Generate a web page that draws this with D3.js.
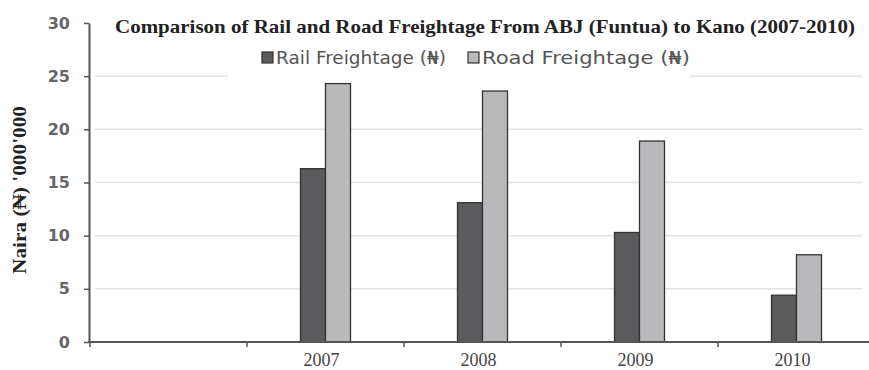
<!DOCTYPE html>
<html>
<head>
<meta charset="utf-8">
<script src="https://cdn.jsdelivr.net/npm/d3@7"></script>
<style>
  body { margin: 0; background: #fff; }
  svg { display: block; }
</style>
</head>
<body>
<svg width="869" height="370"></svg>
<script>
const years = ["", "2007", "2008", "2009", "2010"];
const seriesNames = ["Rail Freightage (₦)", "Road Freightage (₦)"];
const rail = [null, 16.3, 13.1, 10.3, 4.4];
const road = [null, 24.3, 23.6, 18.9, 8.2];
const yTicks = [0, 5, 10, 15, 20, 25, 30];

const svg = d3.select("svg");
const colors = ["#5b5a5c", "#b9b8bb"];

const x = d3.scaleBand()
  .domain(years)
  .range([90, 875]);

const x1 = d3.scaleBand()
  .domain(seriesNames)
  .range([0, 50]);

const y = d3.scaleLinear()
  .domain([0, 30])
  .range([342, 23]);

// grid lines
svg.append("g")
  .selectAll("line")
  .data(yTicks.filter(d => d > 0 && d < 30))
  .enter().append("line")
  .attr("x1", 95)
  .attr("x2", 862)
  .attr("y1", d => y(d))
  .attr("y2", d => y(d))
  .attr("stroke", "#e2e2e2")
  .attr("stroke-width", 1.5);

// white box behind the legend hides part of the 25 line
svg.append("rect")
  .attr("x", 228).attr("y", 40)
  .attr("width", 462).attr("height", 40)
  .attr("fill", "#fff");

// bars
const rows = years.map((yr, i) => ({ yr, vals: [rail[i], road[i]] }))
  .filter(d => d.vals[0] != null);

svg.append("g")
  .selectAll("g")
  .data(rows)
  .enter().append("g")
  .attr("transform", d => `translate(${x(d.yr) + x.bandwidth() / 2 - 25},0)`)
  .selectAll("rect")
  .data(d => d.vals.map((v, i) => ({ name: seriesNames[i], v, i })))
  .enter().append("rect")
  .attr("x", d => x1(d.name))
  .attr("width", x1.bandwidth())
  .attr("y", d => y(d.v))
  .attr("height", d => y(0) - y(d.v))
  .attr("fill", d => colors[d.i])
  .attr("stroke", "#333")
  .attr("stroke-width", 1.3);

// y axis
const yAxis = svg.append("g")
  .attr("transform", "translate(89,0)")
  .call(d3.axisLeft(y).tickValues(yTicks).tickSize(5).tickSizeOuter(0).tickPadding(14));
yAxis.select(".domain").attr("stroke", "#555").attr("stroke-width", 2);
yAxis.selectAll(".tick line").attr("stroke", "#555").attr("stroke-width", 1.5);
yAxis.selectAll(".tick text")
  .attr("font-family", "DejaVu Sans, Verdana, sans-serif")
  .attr("font-size", 16)
  .attr("font-weight", "bold")
  .attr("fill", "#666");

// x axis
const xAxis = svg.append("g")
  .attr("transform", "translate(0,342)");
xAxis.append("line")
  .attr("x1", 88).attr("x2", 875)
  .attr("stroke", "#555").attr("stroke-width", 2);
xAxis.selectAll(".tk")
  .data(years)
  .enter().append("line")
  .attr("class", "tk")
  .attr("x1", d => x(d)).attr("x2", d => x(d))
  .attr("y1", 0).attr("y2", 5)
  .attr("stroke", "#555").attr("stroke-width", 1.5);
xAxis.selectAll("text")
  .data(years.filter(d => d))
  .enter().append("text")
  .attr("x", d => x(d) + x.bandwidth() / 2 - 4)
  .attr("y", 24)
  .attr("text-anchor", "middle")
  .attr("font-family", "Liberation Serif, Times New Roman, serif")
  .attr("font-size", 18)
  .attr("fill", "#444")
  .text(d => d);

// title
svg.append("text")
  .attr("x", 485)
  .attr("y", 33)
  .attr("text-anchor", "middle")
  .attr("font-family", "Liberation Serif, Times New Roman, serif")
  .attr("font-weight", "bold")
  .attr("font-size", 19)
  .attr("textLength", 740)
  .attr("lengthAdjust", "spacingAndGlyphs")
  .attr("fill", "#222")
  .text("Comparison of Rail and Road Freightage From ABJ (Funtua) to Kano (2007-2010)");

// legend
const legend = svg.append("g")
  .selectAll("g")
  .data(seriesNames)
  .enter().append("g")
  .attr("transform", (d, i) => `translate(${[262, 468][i]},52)`);
legend.append("rect")
  .attr("width", 11).attr("height", 11)
  .attr("fill", (d, i) => colors[i])
  .attr("stroke", "#333").attr("stroke-width", 1.2);
legend.append("text")
  .attr("x", 14).attr("y", 12)
  .attr("font-family", "DejaVu Sans, Verdana, sans-serif")
  .attr("font-size", 18)
  .attr("textLength", (d, i) => [170, 208][i])
  .attr("lengthAdjust", "spacingAndGlyphs")
  .attr("fill", "#555")
  .text(d => d);

// y axis title
svg.append("text")
  .attr("transform", "translate(26,190) rotate(-90)")
  .attr("text-anchor", "middle")
  .attr("font-family", "Liberation Serif, Times New Roman, serif")
  .attr("font-weight", "bold")
  .attr("font-size", 18)
  .attr("textLength", 168)
  .attr("lengthAdjust", "spacingAndGlyphs")
  .attr("fill", "#222")
  .text("Naira (₦) '000'000");
</script>
</body>
</html>
